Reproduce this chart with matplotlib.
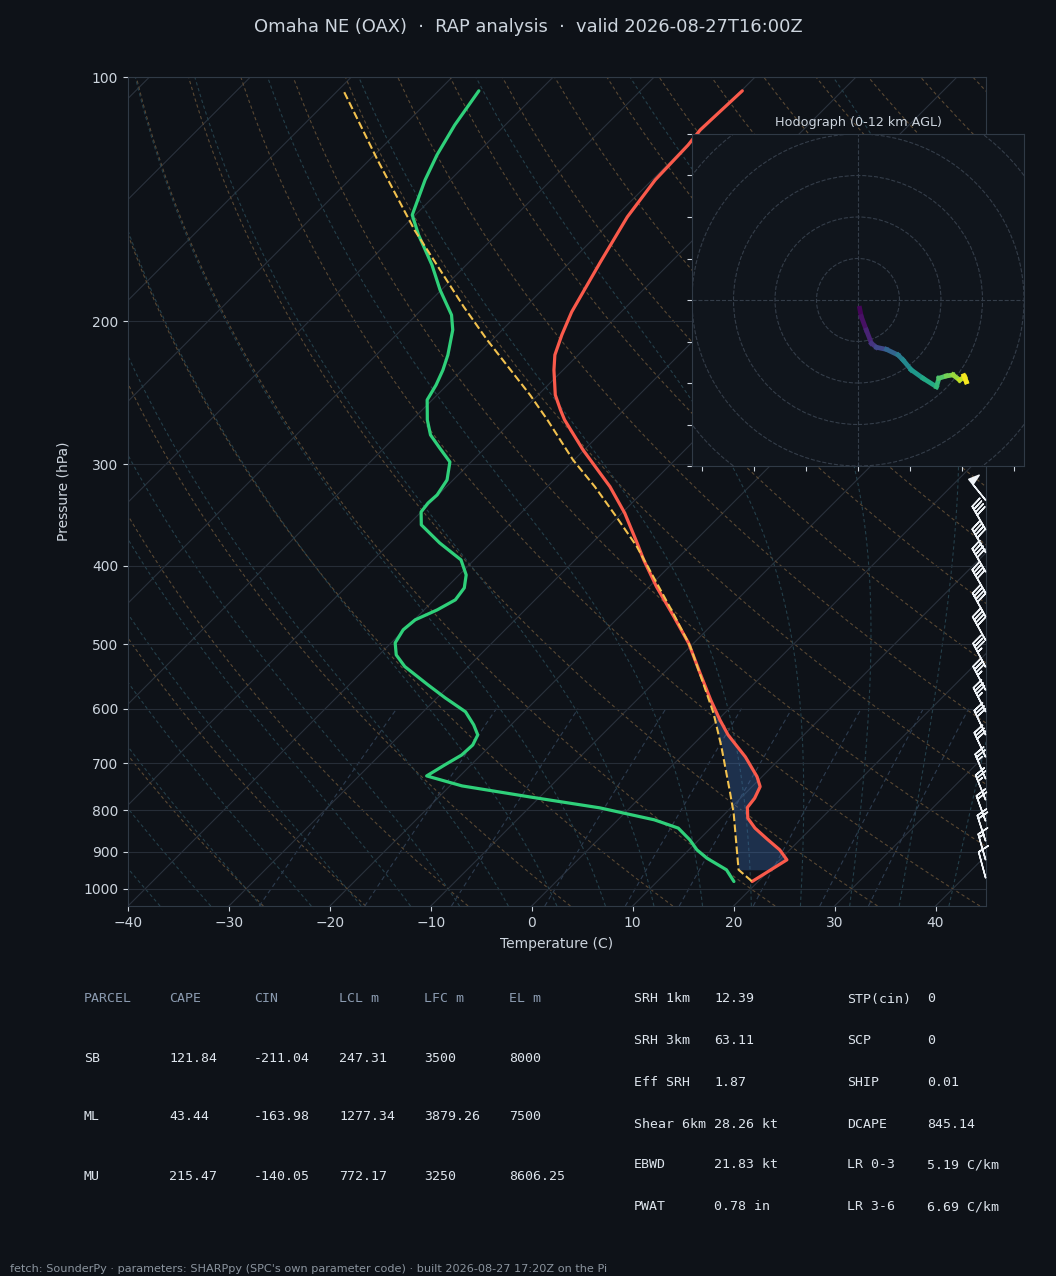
import numpy as np
import matplotlib
matplotlib.use("Agg")
import matplotlib.pyplot as plt
from matplotlib.collections import LineCollection
from matplotlib.patches import Circle
import matplotlib.transforms as mtrans
from matplotlib.ticker import NullLocator, FuncFormatter

# ---------------- data ----------------
title = "Omaha NE (OAX)  \u00b7  RAP analysis  \u00b7  valid 2026-08-27T16:00Z"
footer = ("fetch: SounderPy \u00b7 parameters: SHARPpy (SPC's own parameter code) \u00b7 "
          "built 2026-08-27 17:20Z on the Pi")

temp_p = [104.0, 116.2, 121.3, 133.9, 148.7, 169.0, 194.7, 207.8, 220.0, 229.6, 246.4,
          257.1, 264.5, 288.0, 319.6, 344.6, 375.2, 393.4, 424.3, 462.0, 498.2, 542.4,
          585.1, 619.3, 646.3, 688.0, 727.5, 748.4, 773.4, 794.1, 818.4, 841.9, 868.6,
          895.4, 921.1, 979.5]
temp_c = [-59.9, -60.2, -59.9, -59.7, -58.8, -57.0, -54.9, -53.6, -52.3, -50.9, -48.3,
          -46.3, -44.9, -40.1, -33.8, -29.7, -25.5, -23.2, -19.3, -14.6, -10.5, -6.4,
          -2.7, 0.2, 2.5, 6.4, 9.5, 10.8, 11.4, 11.6, 12.7, 14.4, 16.7,
          19.0, 20.7, 19.4]

dewp_p = [104.0, 114.6, 124.7, 133.9, 147.9, 156.5, 170.4, 183.0, 196.4, 204.9, 220.0,
          229.6, 239.5, 249.9, 264.5, 276.0, 286.4, 298.0, 313.6, 327.2, 334.7, 343.4,
          356.2, 374.9, 393.4, 410.5, 425.9, 440.6, 453.3, 466.3, 479.7, 497.8, 515.1,
          532.4, 560.7, 581.8, 605.3, 628.1, 646.3, 665.0, 684.1, 703.8, 726.0, 746.9,
          770.6, 794.8, 822.3, 841.9, 870.3, 895.4, 916.7, 947.5, 979.5]
dewp_c = [-86.0, -85.0, -83.8, -82.5, -80.3, -77.7, -73.4, -70.1, -66.5, -64.9, -62.9,
          -61.9, -61.1, -60.5, -58.5, -56.7, -54.5, -52.1, -50.6, -50.1, -50.2, -50.0,
          -48.7, -45.1, -41.3, -39.3, -38.2, -37.9, -38.7, -39.9, -40.1, -39.6, -38.3,
          -36.3, -32.2, -29.2, -25.8, -23.7, -22.3, -21.8, -21.9, -22.6, -23.3, -18.8,
          -11.0, -3.0, 3.6, 6.8, 9.1, 10.8, 12.6, 15.7, 17.6]

parcel_p = [104.4, 126.5, 154.3, 191.9, 210.8, 246.4, 264.5, 296.3, 319.6, 348.0,
            378.8, 412.5, 457.6, 503.0, 558.0, 607.6, 668.2, 755.5, 806.8, 947.5, 979.5]
parcel_c = [-99.2, -89.2, -78.6, -66.1, -60.5, -50.8, -46.6, -40.1, -35.3, -30.2,
            -25.2, -20.6, -15.0, -10.0, -5.1, -1.1, 3.0, 8.1, 10.8, 16.9, 19.4]

barb_p = [127, 139, 150, 162, 176, 193, 211, 231, 253, 275, 298,
          332, 361, 385, 407, 432, 462, 494, 533, 569, 605, 646, 688, 732, 777,
          825, 873, 921, 969]
barb_spd = [62, 64, 65, 63, 62, 60, 60, 58, 56, 55, 52,
            50, 40, 40, 40, 40, 40, 40, 35, 35, 35, 30, 30, 25, 25,
            20, 20, 15, 10]
barb_dir = [312, 312, 312, 313, 313, 314, 315, 316, 317, 318, 320,
            321, 330, 330, 330, 330, 331, 331, 332, 332, 333, 335, 335, 337, 338,
            340, 342, 344, 345]

hodo_u = [0.8, 1.6, 4.0, 6.5, 8.9, 13.7, 19.3, 21.7, 25.7, 31.3, 37.8, 39.0, 42.6,
          45.8, 49.0, 51.4, 52.2, 51.0]
hodo_v = [-4.0, -8.0, -14.5, -20.9, -22.8, -23.8, -26.5, -28.9, -33.7, -37.7, -41.8,
          -37.7, -36.6, -36.1, -38.6, -37.0, -39.4, -36.5]
hodo_z = [0.0, 0.3, 0.8, 1.5, 2.2, 3.0, 4.6, 5.2, 6.0, 6.8, 7.6, 8.4, 9.2, 9.8,
          10.6, 11.2, 11.7, 12.0]

parcel_header = ["PARCEL", "CAPE", "CIN", "LCL m", "LFC m", "EL m"]
parcel_rows = [["SB", "121.84", "-211.04", "247.31", "3500", "8000"],
               ["ML", "43.44", "-163.98", "1277.34", "3879.26", "7500"],
               ["MU", "215.47", "-140.05", "772.17", "3250", "8606.25"]]
kin_labels = ["SRH 1km", "SRH 3km", "Eff SRH", "Shear 6km", "EBWD", "PWAT"]
kin_values = ["12.39", "63.11", "1.87", "28.26 kt", "21.83 kt", "0.78 in"]
idx_labels = ["STP(cin)", "SCP", "SHIP", "DCAPE", "LR 0-3", "LR 3-6"]
idx_values = ["0", "0", "0.01", "845.14", "5.19 C/km", "6.69 C/km"]

# ---------------- style ----------------
BG = "#0e1218"
FG = "#cdd5de"
SPINE = "#303a46"
ISOTHERM = "#2a323d"
ISOBAR = "#262d37"
DRY = "#594833"
MOIST = "#243f4a"
MIX = "#2d3c4f"
RED = "#fa5a4b"
GREEN = "#2fd07a"
YEL = "#f2c14e"
HEAD = "#8b9bb0"
VAL = "#dde4ec"

FW, FH = 1056, 1276
fig = plt.figure(figsize=(FW / 100, FH / 100), dpi=100, facecolor=BG)
L, B, W, H = 128 / FW, 1 - 906 / FH, 858 / FW, 829 / FH
ax = fig.add_axes([L, B, W, H], facecolor=BG)

P_BOT, P_TOP = 1050.0, 100.0
T_MIN, T_MAX = -40.0, 45.0
SKEW = (H * FH / np.log10(P_BOT / P_TOP)) * ((T_MAX - T_MIN) / (W * FW))


def sk(t, p):
    return np.asarray(t, float) + SKEW * np.log10(P_BOT / np.asarray(p, float))


ax.set_yscale("log")
ax.set_ylim(P_BOT, P_TOP)
ax.set_xlim(T_MIN, T_MAX)

# isotherms
for t in range(-140, 50, 10):
    pp = np.array([P_BOT, P_TOP])
    ax.plot(sk([t, t], pp), pp, color=ISOTHERM, lw=0.8, zorder=1)

# dry adiabats
pgrid = np.linspace(P_BOT, P_TOP, 150)
for th in np.arange(243.15, 473.15, 10):
    tt = th * (pgrid / 1000.0) ** 0.2857 - 273.15
    ax.plot(sk(tt, pgrid), pgrid, color=DRY, lw=0.8, ls=(0, (3, 2.5)), zorder=1)

# moist adiabats
Rd, Cp, Lv, EPS = 287.04, 1005.7, 2.501e6, 0.622


def es_hpa(tk):
    return 6.112 * np.exp(17.67 * (tk - 273.15) / (tk - 29.65))


def dtdp(tk, p):
    es = es_hpa(tk)
    rs = EPS * es / np.maximum(p - es, 1e-3)
    return (Rd * tk + Lv * rs) / (p * (Cp + Lv * Lv * rs * EPS / (Rd * tk * tk)))


def integrate(t0, pg):
    out = [t0.copy()]
    t = t0.copy()
    for i in range(1, len(pg)):
        dp = pg[i] - pg[i - 1]
        k1 = dtdp(t, pg[i - 1])
        k2 = dtdp(t + 0.5 * dp * k1, pg[i - 1] + 0.5 * dp)
        t = t + dp * k2
        out.append(t.copy())
    return np.array(out)


t0 = np.arange(233.15, 331.0, 5.0)
p_up = np.linspace(1000, P_TOP, 361)
p_dn = np.linspace(1000, P_BOT, 21)
up = integrate(t0, p_up)
dn = integrate(t0, p_dn)
p_all = np.concatenate([p_dn[::-1], p_up[1:]])
t_all = np.concatenate([dn[::-1], up[1:]], axis=0) - 273.15
for j in range(len(t0)):
    ax.plot(sk(t_all[:, j], p_all), p_all, color=MOIST, lw=0.8, ls=(0, (3, 2.5)), zorder=1)

# mixing ratio lines
p_mix = np.linspace(P_BOT, 600, 30)
for w in [0.0004, 0.001, 0.002, 0.004, 0.007, 0.01, 0.016, 0.024, 0.032]:
    e = p_mix * w / (EPS + w)
    lne = np.log(e / 6.112)
    td = 243.5 * lne / (17.67 - lne)
    ax.plot(sk(td, p_mix), p_mix, color=MIX, lw=0.8, ls=(0, (4, 3)), zorder=1)

# CIN shading
pf = np.logspace(np.log10(947.5), np.log10(560.0), 300)
te_i = np.interp(np.log(pf), np.log(np.array(temp_p)), np.array(temp_c))
tpar_i = np.interp(np.log(pf), np.log(np.array(parcel_p)), np.array(parcel_c))
ax.fill_betweenx(pf, sk(tpar_i, pf), sk(te_i, pf), where=te_i >= tpar_i,
                 color="#3f72ba", alpha=0.32, lw=0, zorder=3)

# profiles
ax.plot(sk(temp_c, temp_p), temp_p, color=RED, lw=2.3, zorder=6, solid_capstyle="round")
ax.plot(sk(dewp_c, dewp_p), dewp_p, color=GREEN, lw=2.3, zorder=6, solid_capstyle="round")
ax.plot(sk(parcel_c, parcel_p), parcel_p, color=YEL, lw=1.5, ls="--", zorder=7)

# wind barbs
spd = np.array(barb_spd, float)
drc = np.deg2rad(np.array(barb_dir, float))
bu = -spd * np.sin(drc)
bv = -spd * np.cos(drc)
btrans = mtrans.blended_transform_factory(ax.transAxes, ax.transData)
ax.barbs(np.full(len(barb_p), 0.9995), barb_p, bu, bv, transform=btrans, color="#eef2f6",
         length=6.2, linewidth=1.1, clip_on=False, zorder=8)

# axes styling
ax.set_yticks([100, 200, 300, 400, 500, 600, 700, 800, 900, 1000])
ax.yaxis.set_major_formatter(FuncFormatter(lambda v, _: f"{int(round(v))}"))
ax.yaxis.set_minor_locator(NullLocator())
ax.set_xticks(range(-40, 41, 10))
ax.tick_params(colors=FG, labelsize=10)
ax.grid(axis="y", color=ISOBAR, lw=0.8)
ax.grid(axis="x", visible=False)
for s in ax.spines.values():
    s.set_color(SPINE)
ax.set_ylabel("Pressure (hPa)", color=FG, fontsize=10, labelpad=9)
ax.set_xlabel("Temperature (C)", color=FG, fontsize=10, labelpad=5)

# hodograph inset
axh = fig.add_axes([692 / FW, 1 - 466 / FH, 332 / FW, 332 / FH], facecolor="#10151c", zorder=5)
axh.set_xlim(-80, 80)
axh.set_ylim(-80, 80)
for r in range(20, 140, 20):
    axh.add_patch(Circle((0, 0), r, fill=False, ls="--", lw=0.8, ec="#343d49", zorder=1))
axh.axhline(0, ls="--", lw=0.8, color="#343d49", zorder=1)
axh.axvline(0, ls="--", lw=0.8, color="#343d49", zorder=1)
pts = np.array([hodo_u, hodo_v]).T.reshape(-1, 1, 2)
segs = np.concatenate([pts[:-1], pts[1:]], axis=1)
zz = np.array(hodo_z)
lc = LineCollection(segs, cmap="viridis", norm=plt.Normalize(0, 12), linewidth=3.4,
                    zorder=3, capstyle="projecting")
lc.set_array(0.5 * (zz[:-1] + zz[1:]))
axh.add_collection(lc)
axh.set_xticks([-75, -50, -25, 0, 25, 50, 75])
axh.set_yticks(range(-80, 81, 20))
axh.tick_params(labelleft=False, labelbottom=False, colors=FG, length=3.5, width=0.8)
for s in axh.spines.values():
    s.set_color(SPINE)
axh.set_title("Hodograph (0-12 km AGL)", color=FG, fontsize=9.2, pad=6)

# title
fig.text(0.5, 1 - 27 / FH, title, ha="center", va="center", fontsize=12.9, color=FG)

# parcel table
col_x = [84, 169, 254, 339, 424, 509]
row_y = [999, 1058, 1117, 1176]
mono = "DejaVu Sans Mono"
for cx, h in zip(col_x, parcel_header):
    fig.text(cx / FW, 1 - row_y[0] / FH, h, family=mono, fontsize=9.5, color=HEAD, va="center")
for ry, row in zip(row_y[1:], parcel_rows):
    for cx, v in zip(col_x, row):
        fig.text(cx / FW, 1 - ry / FH, v, family=mono, fontsize=9.5, color=VAL, va="center")

# kinematic / index table
krow_y = [999, 1041, 1082, 1124, 1165, 1207]
for ry, a, b, c, d in zip(krow_y, kin_labels, kin_values, idx_labels, idx_values):
    fig.text(634 / FW, 1 - ry / FH, a, family=mono, fontsize=9.5, color=VAL, va="center")
    fig.text(714 / FW, 1 - ry / FH, b, family=mono, fontsize=9.5, color=VAL, va="center")
    fig.text(847 / FW, 1 - ry / FH, c, family=mono, fontsize=9.5, color=VAL, va="center")
    fig.text(927 / FW, 1 - ry / FH, d, family=mono, fontsize=9.5, color=VAL, va="center")

fig.text(10 / FW, 1 - 1269 / FH, footer, fontsize=8.15, color="#8b949e", va="center")

fig.savefig("out.png", dpi=100, facecolor=BG)
